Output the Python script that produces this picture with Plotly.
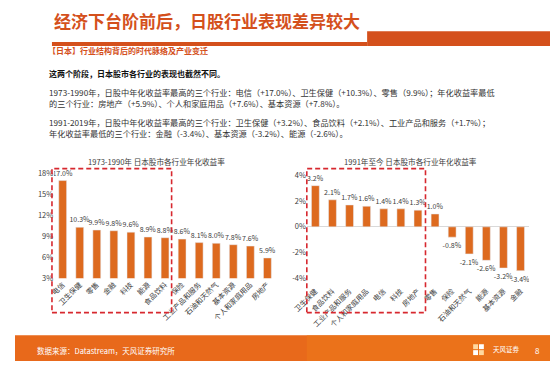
import plotly.graph_objects as go

W, H = 550, 366

# ---- data ----
cats_left = ["电信", "卫生保健", "零售", "金融", "科技", "能源", "食品饮料", "保险",
             "工业产品和服务", "石油和天然气", "基本资源", "个人和家庭用品", "房地产"]
vals_left = [17.0, 10.3, 9.9, 9.8, 9.6, 8.9, 8.8, 8.6, 8.1, 8.0, 7.8, 7.6, 5.9]

cats_right = ["卫生保健", "食品饮料", "工业产品和服务", "个人和家庭用品", "电信", "科技", "房地产",
              "零售", "保险", "石油和天然气", "能源", "基本资源", "金融"]
vals_right = [3.2, 2.1, 1.7, 1.6, 1.4, 1.4, 1.3, 1.0, -0.8, -2.1, -2.6, -3.2, -3.4]

left_ticks = [3, 6, 9, 12, 15, 18]
right_ticks = [-4, -2, 0, 2, 4]

title_text = "经济下台阶前后，日股行业表现差异较大"
subtitle_text = "【日本】行业结构背后的时代脉络及产业变迁"
lead_text = "这两个阶段，日本股市各行业的表现也截然不同。"
para1 = ["1973-1990年，日股中年化收益率最高的三个行业：电信（+17.0%）、卫生保健（+10.3%）、零售（9.9%）；年化收益率最低",
         "的三个行业：房地产（+5.9%）、个人和家庭用品（+7.6%）、基本资源（+7.8%）。"]
para2 = ["1991-2019年，日股中年化收益率最高的三个行业：卫生保健（+3.2%）、食品饮料（+2.1%）、工业产品和服务（+1.7%）；",
         "年化收益率最低的三个行业：金融（-3.4%）、基本资源（-3.2%）、能源（-2.6%）。"]
chart_title_left = "1973-1990年 日本股市各行业年化收益率"
chart_title_right = "1991年至今 日本股市各行业年化收益率"
source_text = "数据来源：Datastream，天风证券研究所"

FONT = "Noto Sans CJK SC"
ORANGE = "#DD6A1F"
TITLE_C = "#D4501C"


def px(x):
    return x / W


def py(y):
    return 1 - y / H


fig = go.Figure()

labfont = dict(size=7, color="#404040", family=FONT)
fig.add_trace(go.Bar(
    x=cats_left, y=vals_left, marker_color=ORANGE, width=0.46,
    text=[f"{v:.1f}%" for v in vals_left], textposition="outside",
    constraintext="none", textfont=labfont,
    xaxis="x", yaxis="y", showlegend=False, hoverinfo="skip"))

fig.add_trace(go.Bar(
    x=cats_right, y=vals_right, marker_color=ORANGE, width=0.46,
    text=[f"{v:.1f}%" for v in vals_right], textposition="outside",
    constraintext="none", textfont=labfont,
    xaxis="x2", yaxis="y2", showlegend=False, hoverinfo="skip"))

# left axes: 3 at y=282, 18 at y=176 ; range 3..19
lu = (282 - 176) / 15.0
ly_top = 282 - 16 * lu
# right axes: 0 at y=230 ; range -4.5..4.5
ru = (282.7 - 178.3) / 8.0
ry_top = 230 - 4.5 * ru
ry_bot = 230 + 4.5 * ru

tickfont = dict(size=7.5, color="#404040", family=FONT)
catfont = dict(size=7.2, color="#404040", family=FONT)
fig.update_layout(
    width=W, height=H,
    margin=dict(l=0, r=0, t=0, b=0),
    paper_bgcolor="white", plot_bgcolor="white",
    font=dict(family=FONT),
    xaxis=dict(domain=[px(40.25), px(268.25)], tickangle=-45, tickfont=catfont,
               showgrid=False, showline=False, ticks="", anchor="y"),
    yaxis=dict(domain=[py(282), py(ly_top)], range=[3, 19], tickvals=left_ticks,
               ticktext=[f"{t}%" for t in left_ticks], tickfont=tickfont,
               showgrid=False, zeroline=False, showline=False, ticks="", anchor="x"),
    xaxis2=dict(domain=[px(300), px(528.5)], tickangle=-45, tickfont=catfont,
                showgrid=False, showline=False, ticks="", anchor="y2"),
    yaxis2=dict(domain=[py(ry_bot), py(ry_top)], range=[-4.5, 4.5], tickvals=right_ticks,
                ticktext=[f"{t}%" for t in right_ticks], tickfont=tickfont,
                showgrid=False, zeroline=True, zerolinecolor="#D9D9D9", zerolinewidth=1,
                showline=False, ticks="", anchor="x2"),
    bargap=0.54,
)

shapes = []
# title underline and right block
shapes.append(dict(type="rect", xref="paper", yref="paper", x0=px(38), x1=px(362),
                   y0=py(46.7), y1=py(42.7), fillcolor=TITLE_C, line_width=0))
shapes.append(dict(type="rect", xref="paper", yref="paper", x0=px(362), x1=px(550),
                   y0=py(46.7), y1=py(31.7), fillcolor=TITLE_C, line_width=0))
# footer band
shapes.append(dict(type="rect", xref="paper", yref="paper", x0=0, x1=1,
                   y0=0, y1=py(340), fillcolor="#E8691B", line_width=0))
shapes.append(dict(type="rect", xref="paper", yref="paper", x0=px(300), x1=1,
                   y0=0, y1=py(340), fillcolor="#EC761A", line_width=0, opacity=0.7))
# dashed boxes
box_line = dict(color="#D7282F", width=1.6, dash="5px,3px")
shapes.append(dict(type="rect", xref="paper", yref="paper", x0=px(38), x1=px(161),
                   y0=py(317), y1=py(171), line=box_line))
shapes.append(dict(type="rect", xref="paper", yref="paper", x0=px(300), x1=px(422),
                   y0=py(317), y1=py(171), line=box_line))
# logo squares
for (x0, y0, c) in [(471, 349, "#FFD9A0"), (477, 349, "#FFFFFF"), (471, 355, "#FFFFFF"), (477, 355, "#FFD9A0")]:
    shapes.append(dict(type="rect", xref="paper", yref="paper", x0=px(x0), x1=px(x0 + 5),
                       y0=py(y0 + 5), y1=py(y0), fillcolor=c, line_width=0))

fig.update_layout(shapes=shapes)

ann = []


def text(x, y, s, size, color="#333333", xanchor="left", bold=False):
    ann.append(dict(xref="paper", yref="paper", x=px(x), y=py(y), text=(f"<b>{s}</b>" if bold else s),
                    showarrow=False, xanchor=xanchor, yanchor="middle", align="left",
                    font=dict(size=size, color=color, family=FONT)))


text(38, 21, title_text, 17, TITLE_C, bold=True)
text(32, 51.5, subtitle_text, 8, TITLE_C, bold=True)
text(33, 75, lead_text, 8, "#111111", bold=True)
text(33, 99.2, "<br>".join(para1), 8.2, "#333333")
text(33, 129.7, "<br>".join(para2), 8.2, "#333333")
text(145, 164, chart_title_left, 7.6, "#404040", xanchor="center")
text(407, 164, chart_title_right, 7.6, "#404040", xanchor="center")
text(21, 355, source_text, 7.5, "#FFFFFF")
text(489, 354, "天风证券", 6.5, "#FFFFFF")
text(537, 355, "8", 8, "#FFFFFF", xanchor="center")

fig.update_layout(annotations=ann)

fig.write_html("out.html", config={"displayModeBar": False},
               post_script="document.body.style.margin='0px';")
